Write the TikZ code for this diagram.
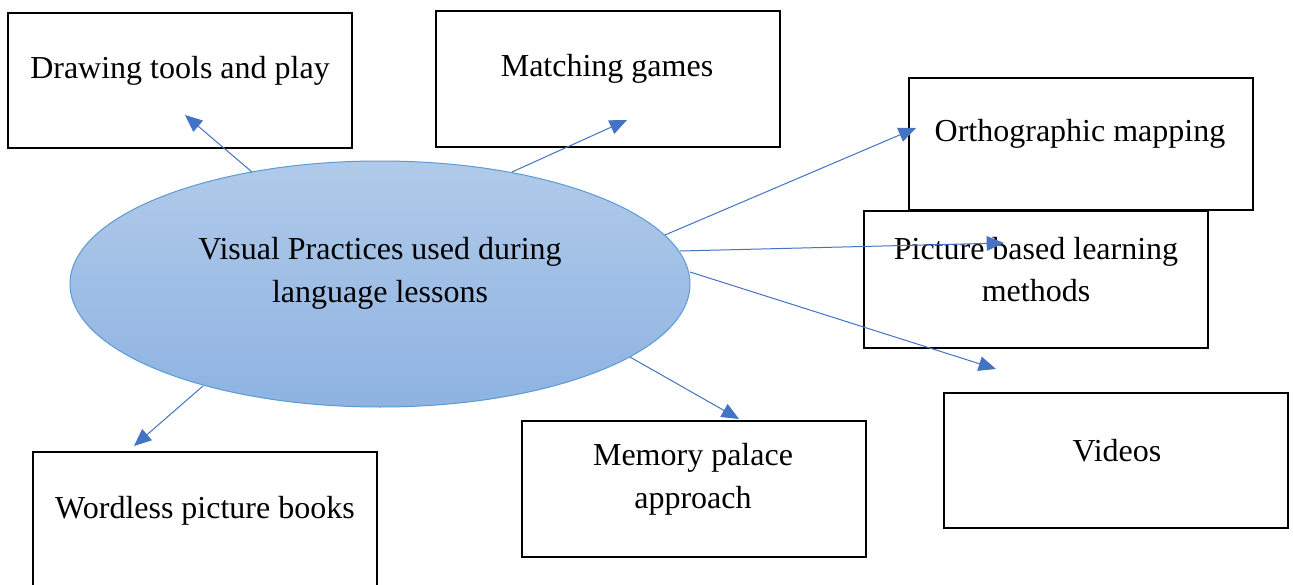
\documentclass[tikz,border=0pt]{standalone}
\usepackage{fontspec}
\setmainfont{Liberation Serif}
\usetikzlibrary{shapes.geometric,arrows.meta}
\definecolor{linkblue}{HTML}{4472C4}
\definecolor{ovaltop}{HTML}{B1CAE9}
\definecolor{ovalbot}{HTML}{8EB3E2}
\definecolor{ovalline}{HTML}{5B9BD5}
\tikzset{
  topic/.style={draw=black, line width=1.5pt, fill=white, minimum width=258pt,
    minimum height=101.5pt, inner sep=0pt},
  caption/.style={font=\fontsize{24}{32}\selectfont, align=center, inner sep=0pt},
  hub/.style={ellipse, draw=ovalline, line width=0.75pt, top color=ovaltop,
    bottom color=ovalbot, minimum width=465pt, minimum height=184.5pt, inner sep=0pt},
  link/.style={draw=linkblue, line width=0.75pt, -{Triangle[length=13pt,width=11pt]}}
}
\begin{document}
\begin{tikzpicture}[x=0.75pt,y=-0.75pt]
\clip (0,0) rectangle (1293,585);
\fill[white] (0,0) rectangle (1293,585);

% central oval
\node[hub] (hub) at (380,284) {};
\node[caption] (hubtxt) at (380,273.5) {Visual Practices used during\\language lessons};

% surrounding boxes
\node[topic] (draw) at (180,80.5) {};
\node[topic] (match) at (607.5,79) {};
\node[topic, minimum height=99pt] (ortho) at (1080.5,144) {};
\node[topic, minimum height=102.75pt] (pict) at (1035.5,279.5) {};
\node[topic] (video) at (1116,460.5) {};
\node[topic, minimum height=102pt] (memo) at (693.5,489) {};
\node[topic] (word) at (205,519.5) {};

\node[caption] (drawtxt) at (180,70.5) {Drawing tools and play};
\node[caption] (matchtxt) at (607,68.5) {Matching games};
\node[caption] (orthotxt) at (1080,133.5) {Orthographic mapping};
\node[caption] (picttxt) at (1036,269.5) {Picture based learning\\methods};
\node[caption] (videotxt) at (1117,450.5) {Videos};
\node[caption] (memotxt) at (693,479.5) {Memory palace\\approach};
\node[caption] (wordtxt) at (205,510.5) {Wordless picture books};

% connector end points
\coordinate (s1) at (252,172);  \coordinate (t1) at (185,115);
\coordinate (s2) at (512,172);  \coordinate (t2) at (627,120);
\coordinate (s3) at (665,235);  \coordinate (t3) at (916,128);
\coordinate (s4) at (680,251);  \coordinate (t4) at (1004,243);
\coordinate (s5) at (690,272);  \coordinate (t5) at (996,369);
\coordinate (s6) at (630,357);  \coordinate (t6) at (739,419);
\coordinate (s7) at (203,386);  \coordinate (t7) at (134,446);

\draw[link] (s1) -- (t1);
\draw[link] (s2) -- (t2);
\draw[link] (s3) -- (t3);
\draw[link] (s4) -- (t4);
\draw[link] (s5) -- (t5);
\draw[link] (s6) -- (t6);
\draw[link] (s7) -- (t7);
\end{tikzpicture}
\end{document}
